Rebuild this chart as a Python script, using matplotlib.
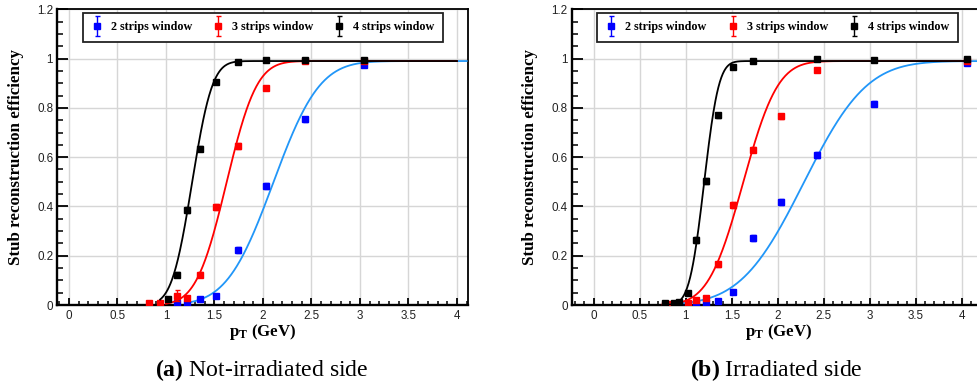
import math
import numpy as np
import matplotlib
matplotlib.use("Agg")
import matplotlib.pyplot as plt
from matplotlib.ticker import MultipleLocator, FuncFormatter
from matplotlib.legend_handler import HandlerErrorbar
from matplotlib.container import ErrorbarContainer
from matplotlib.font_manager import FontProperties

# ---------------- data ----------------
labels = ["2 strips window", "3 strips window", "4 strips window"]
marker_colors = ["#0000ff", "#ff0000", "#000000"]
curve_colors = ["#2196f8", "#ff0000", "#000000"]

# (a) Not-irradiated side
a2_x = [1.11, 1.22, 1.35, 1.52, 1.74, 2.03, 2.43, 3.04]
a2_y = [0.008, 0.006, 0.025, 0.038, 0.224, 0.484, 0.753, 0.972]
a2_e = [0.004, 0.004, 0.006, 0.007, 0.012, 0.012, 0.010, 0.004]
a3_x = [0.83, 0.94, 1.11, 1.22, 1.35, 1.52, 1.74, 2.03, 2.43, 3.04]
a3_y = [0.010, 0.008, 0.038, 0.030, 0.123, 0.398, 0.646, 0.880, 0.990, 0.990]
a3_e = [0.005, 0.005, 0.022, 0.008, 0.010, 0.012, 0.011, 0.008, 0.003, 0.003]
a4_x = [1.02, 1.11, 1.22, 1.35, 1.52, 1.74, 2.03, 2.43, 3.04]
a4_y = [0.025, 0.122, 0.386, 0.635, 0.907, 0.986, 0.993, 0.993, 0.993]
a4_e = [0.006, 0.010, 0.012, 0.011, 0.007, 0.003, 0.002, 0.002, 0.002]

# (b) Irradiated side
b2_x = [0.93, 1.11, 1.22, 1.35, 1.51, 1.73, 2.03, 2.43, 3.04, 4.05]
b2_y = [0.000, 0.004, 0.010, 0.017, 0.053, 0.272, 0.418, 0.609, 0.817, 0.981]
b2_e = [0.003, 0.003, 0.004, 0.005, 0.007, 0.011, 0.012, 0.012, 0.009, 0.004]
b3_x = [0.77, 0.83, 1.02, 1.11, 1.22, 1.35, 1.51, 1.73, 2.03, 2.43, 4.05]
b3_y = [0.002, 0.003, 0.010, 0.022, 0.030, 0.166, 0.405, 0.631, 0.765, 0.952, 0.990]
b3_e = [0.003, 0.003, 0.004, 0.005, 0.006, 0.010, 0.012, 0.012, 0.010, 0.005, 0.003]
b4_x = [0.77, 0.87, 0.93, 1.02, 1.11, 1.22, 1.35, 1.51, 1.73, 2.43, 3.04, 4.05]
b4_y = [0.008, 0.008, 0.012, 0.050, 0.264, 0.505, 0.770, 0.966, 0.989, 0.998, 0.993, 0.997]
b4_e = [0.004, 0.004, 0.004, 0.006, 0.011, 0.012, 0.010, 0.005, 0.003, 0.002, 0.002, 0.002]

# erf fit parameters: (plateau, mean, width, x_start, x_end)
a_fits = [(0.99, 2.105, 0.531, 1.21, 4.10),
          (0.99, 1.624, 0.346, 1.00, 4.00),
          (0.99, 1.269, 0.232, 0.94, 4.00)]
b_fits = [(0.99, 2.280, 0.760, 0.90, 4.30),
          (0.99, 1.622, 0.419, 0.75, 4.02),
          (0.99, 1.199, 0.177, 0.80, 4.02)]

captions = [r"$\mathbf{(a)}$ Not-irradiated side", r"$\mathbf{(b)}$ Irradiated side"]
xlabel = r"$\mathbf{p}_{\mathbf{T}}$ (GeV)"
ylabel = "Stub reconstruction efficiency"

# ---------------- style ----------------
plt.rcParams["mathtext.fontset"] = "custom"
plt.rcParams["mathtext.rm"] = "Liberation Serif"
plt.rcParams["mathtext.bf"] = "Liberation Serif:bold"
plt.rcParams["mathtext.it"] = "Liberation Serif:italic"

W, H = 977, 385
fig = plt.figure(figsize=(W / 100, H / 100), dpi=100)


def px_axes(l, t, r, b):
    return fig.add_axes([l / W, 1 - b / H, (r - l) / W, (b - t) / H])


erf_vec = np.vectorize(math.erf)

panels = [
    dict(ax=px_axes(57.3, 9.3, 468.3, 305), xlim=(-0.12, 4.117),
         series=[(a2_x, a2_y, a2_e), (a3_x, a3_y, a3_e), (a4_x, a4_y, a4_e)],
         fits=a_fits, leg=(0.0618, 0.877, 0.876, 0.1115), cap_x=262, ylab_x=-0.081),
    dict(ax=px_axes(571.7, 9.3, 985, 305), xlim=(-0.239, 4.25),
         series=[(b2_x, b2_y, b2_e), (b3_x, b3_y, b3_e), (b4_x, b4_y, b4_e)],
         fits=b_fits, leg=(0.0605, 0.877, 0.8735, 0.1115), cap_x=776, ylab_x=-0.0815),
]

tick_fp = FontProperties(family="Liberation Sans", size=8.4)
lab_fp = FontProperties(family="Liberation Serif", weight="bold", size=12.2)
leg_fp = FontProperties(family="Liberation Serif", weight="bold", size=8.7)

for i, p in enumerate(panels):
    ax = p["ax"]
    handles = []
    for k in range(3):
        xs, ys, es = p["series"][k]
        pl, mu, sg, x0, x1 = p["fits"][k]
        xf = np.linspace(x0, x1, 600)
        yf = pl / 2.0 * (1.0 + erf_vec((xf - mu) / sg))
        ax.plot(xf, yf, color=curve_colors[k], lw=1.3, zorder=3 + 2 * k, clip_on=True)
        h = ax.errorbar(xs, ys, yerr=es, fmt="s", ms=4.3, color=marker_colors[k],
                        mec=marker_colors[k], ecolor=marker_colors[k], elinewidth=1.0,
                        capsize=1.8, capthick=1.0, zorder=4 + 2 * k, clip_on=True)
        handles.append(h)

    ax.set_xlim(*p["xlim"])
    ax.set_ylim(0, 1.2)
    ax.xaxis.set_major_locator(MultipleLocator(0.5))
    ax.xaxis.set_minor_locator(MultipleLocator(0.1))
    ax.yaxis.set_major_locator(MultipleLocator(0.2))
    ax.yaxis.set_minor_locator(MultipleLocator(0.05))
    fmt = FuncFormatter(lambda v, pos: ("%g" % round(v, 3)))
    ax.xaxis.set_major_formatter(fmt)
    ax.yaxis.set_major_formatter(fmt)
    ax.tick_params(axis="x", which="major", direction="in", length=5.2, width=1.3,
                   pad=3.5, top=False, color="black")
    ax.tick_params(axis="x", which="minor", direction="in", length=2.9, width=1.1, top=False)
    ax.tick_params(axis="y", which="major", direction="in", length=8.0, width=1.3,
                   pad=3.0, right=False)
    ax.tick_params(axis="y", which="minor", direction="in", length=4.3, width=1.1, right=False)
    for lab in ax.get_xticklabels() + ax.get_yticklabels():
        lab.set_fontproperties(tick_fp)
        lab.set_color("#222222")
    ax.grid(True, which="major", color="#d6d6d6", lw=1.0, zorder=0)
    ax.set_axisbelow(True)
    for s in ["left", "bottom"]:
        ax.spines[s].set_linewidth(1.7)
    for s in ["top", "right"]:
        ax.spines[s].set_linewidth(1.3)

    ax.set_ylabel(ylabel, fontproperties=lab_fp)
    ax.yaxis.set_label_coords(p["ylab_x"], 0.5)
    ax.set_xlabel(xlabel, fontproperties=lab_fp)
    ax.xaxis.set_label_coords(0.5, -0.057)

    lx, ly, lw_, lh = p["leg"]
    leg = ax.legend(handles, labels, ncol=3, mode="expand", loc="upper left",
                    bbox_to_anchor=(lx, ly, lw_, lh), borderaxespad=0.0,
                    prop=leg_fp, frameon=True, fancybox=False, edgecolor="#222222",
                    framealpha=1.0, handlelength=1.0, handletextpad=0.65,
                    borderpad=0.72, columnspacing=1.0,
                    handler_map={ErrorbarContainer: HandlerErrorbar(yerr_size=0.85)})
    leg.get_frame().set_linewidth(1.3)
    leg.set_zorder(20)

    fig.text(p["cap_x"] / W, (H - 376) / H, captions[i], ha="center", va="baseline",
             fontsize=17.1, family="Liberation Serif")

fig.savefig("out.png", dpi=100)
